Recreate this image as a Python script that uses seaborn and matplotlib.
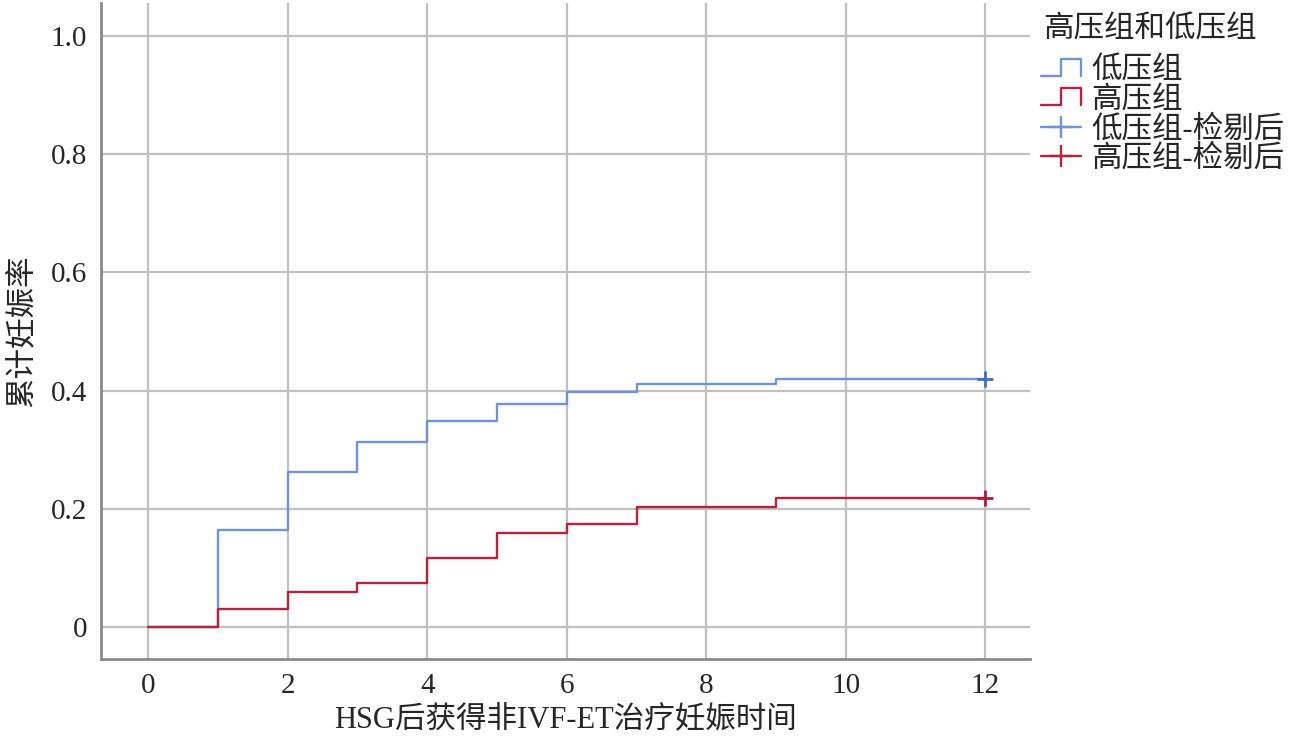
import pandas as pd
import matplotlib.pyplot as plt
import seaborn as sns
from matplotlib.lines import Line2D
from matplotlib.legend_handler import HandlerBase

# data
times = [0, 1, 2, 3, 4, 5, 6, 7, 9, 12]
low_rate = [0, 0.164, 0.263, 0.313, 0.348, 0.377, 0.398, 0.411, 0.419, 0.419]
high_rate = [0, 0.030, 0.059, 0.074, 0.117, 0.160, 0.175, 0.204, 0.219, 0.219]
censor_time = 12
groups = ['低压组', '高压组']
censor_labels = ['低压组-检剔后', '高压组-检剔后']
xticks = [0, 2, 4, 6, 8, 10, 12]
yticks = [0, 0.2, 0.4, 0.6, 0.8, 1.0]
ytick_labels = ['0', '0.2', '0.4', '0.6', '0.8', '1.0']

sns.set_style('white')
plt.rcParams['font.family'] = ['Liberation Serif', 'Noto Sans CJK SC', 'DejaVu Sans']

blue = '#6f93d6'
red = '#b5243f'
blue_dark = '#3f6fc4'
red_dark = '#b01c36'

df = pd.DataFrame({
    'time': times * 2,
    'rate': low_rate + high_rate,
    'group': [groups[0]] * len(times) + [groups[1]] * len(times),
})

fig = plt.figure(figsize=(12.99, 7.44), dpi=100)
ax = fig.add_axes([0.0778, 0.1142, 0.7155, 0.8818])

sns.lineplot(data=df, x='time', y='rate', hue='group', palette=[blue, red],
             drawstyle='steps-post', linewidth=1.7, ax=ax, legend=False,
             estimator=None, sort=False)

# censored marks
ax.plot([censor_time], [low_rate[-1]], marker='+', color=blue_dark, markersize=12, mew=2, ls='none')
ax.plot([censor_time], [high_rate[-1]], marker='+', color=red_dark, markersize=12, mew=2, ls='none')

ax.set_xlim(-0.674, 12.645)
ax.set_ylim(-0.054, 1.056)
ax.set_xticks(xticks)
ax.set_yticks(yticks)
ax.set_yticklabels(ytick_labels)
ax.tick_params(axis='both', length=0, labelsize=21, pad=10)
ax.grid(True, color='#c0c0c0', linewidth=1.6)
ax.set_axisbelow(True)
for s in ['top', 'right']:
    ax.spines[s].set_visible(False)
for s in ['left', 'bottom']:
    ax.spines[s].set_color('#8a8a8a')
    ax.spines[s].set_linewidth(2)
ax.set_xlabel('HSG后获得非IVF-ET治疗妊娠时间', fontsize=22, labelpad=5)
ax.set_ylabel('累计妊娠率', fontsize=22, labelpad=10)


# step shaped legend handle
class StepHandler(HandlerBase):
    def create_artists(self, legend, orig_handle, xdescent, ydescent, width, height, fontsize, trans):
        x0, x1 = -xdescent, -xdescent + width
        y0, y1 = -ydescent + 0.15 * height, -ydescent + 0.95 * height
        xm = x0 + 0.5 * width
        line = Line2D([x0, xm, xm, x1, x1], [y0, y0, y1, y1, y0],
                      color=orig_handle.get_color(), linewidth=1.7, transform=trans)
        return [line]


h_low = Line2D([], [], color=blue)
h_high = Line2D([], [], color=red)
h_low_c = Line2D([], [], color=blue, marker='+', markersize=16, mew=1.7, linewidth=1.7)
h_high_c = Line2D([], [], color=red, marker='+', markersize=16, mew=1.7, linewidth=1.7)

fig.text(0.803, 0.9597, '高压组和低压组', fontsize=22, ha='left', va='center')
fig.legend([h_low, h_high, h_low_c, h_high_c], groups + censor_labels,
           loc='upper left', bbox_to_anchor=(0.8015, 0.9236),
           frameon=False, fontsize=22, labelspacing=0.01,
           handlelength=1.3, handletextpad=0.35, borderaxespad=0, borderpad=0,
           handler_map={h_low: StepHandler(), h_high: StepHandler()})

fig.savefig('out.png', dpi=100)
